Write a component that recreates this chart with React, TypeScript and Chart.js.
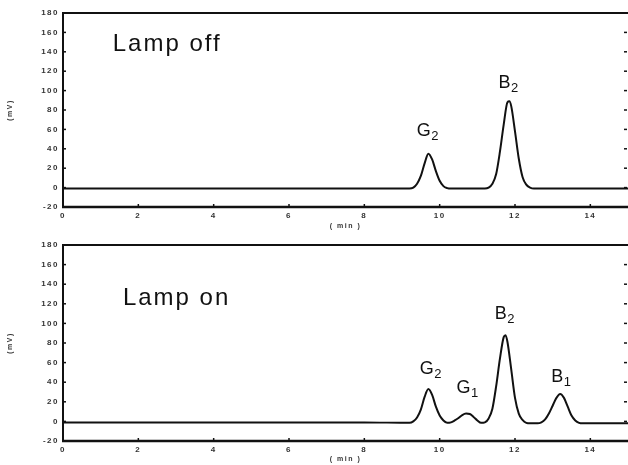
import React, { useEffect, useRef } from "react";
import { Chart, registerables } from "chart.js";

Chart.register(...registerables);

// ---- data (retention time in min, detector signal in mV) ----
const timeOff = [0, 2, 4, 6, 8, 9.1, 9.2, 9.3, 9.4, 9.5, 9.6, 9.7, 9.8, 9.9, 10.0, 10.1, 10.2, 10.3,
  11.1, 11.2, 11.3, 11.4, 11.5, 11.6, 11.7, 11.8, 11.85, 11.9, 12.0, 12.1, 12.2, 12.3, 12.4, 12.5, 13, 14, 15];
const signalOff = [-1, -1, -1, -1, -1, -1, -1, 0, 4, 12, 25, 35, 29, 17, 7, 1.5, -0.5, -1,
  -1, -1, 0, 4, 14, 37, 65, 88, 89, 84, 58, 30, 11, 3, 0, -1, -1, -1, -1];

const timeOn = [0, 2, 4, 6, 8, 9.2, 9.3, 9.4, 9.5, 9.6, 9.7, 9.8, 9.9, 10.0,
  10.1, 10.2, 10.3, 10.4, 10.5, 10.6, 10.7, 10.8, 10.9, 11.0,
  11.1, 11.2, 11.3, 11.4, 11.5, 11.6, 11.7, 11.75, 11.8, 11.9, 12.0, 12.1, 12.2, 12.3, 12.4,
  12.6, 12.7, 12.8, 12.9, 13.0, 13.1, 13.2, 13.3, 13.4, 13.5, 13.6, 13.7, 13.8, 14, 15];
const signalOn = [-1, -1, -1, -1, -1, -1.5, 0, 4, 12, 25, 33, 27, 15, 6,
  1, -1.5, -1, 1, 3.5, 6.5, 8, 7.5, 4.5, 1,
  -1.5, -1, 3, 13, 36, 64, 86, 88, 81, 53, 24, 8, 1.5, -1.5, -2,
  -2, -1, 2, 8, 16, 24, 28, 24, 15, 6, 1, -1.5, -2, -2, -2];

const xTickStep = 2;
const yTickStep = 20;
const xRange = [0, 15];
const yRange = [-20, 180];

// peak labels: [letter, subscript, time, signal]
const peaksOff = [["G", "2", 9.39, 53], ["B", "2", 11.56, 103]];
const peaksOn = [["G", "2", 9.47, 48], ["G", "1", 10.45, 29], ["B", "2", 11.46, 104], ["B", "1", 12.96, 40]];
const titleOff = ["Lamp off", 1.32, 141];
const titleOn = ["Lamp on", 1.59, 119];

const FONT = '"Liberation Sans", Arial, sans-serif';

function Panel({ times, values, peaks, title, height, xAxisH }: any) {
  const ref = useRef<HTMLCanvasElement>(null);
  useEffect(() => {
    const canvas = ref.current!;
    const deco = {
      id: "deco",
      beforeDraw(chart: any) {
        chart.ctx.letterSpacing = "1.5px";
      },
      afterDatasetsDraw(chart: any) {
        const { ctx, chartArea, scales } = chart;
        const { left, right, top, bottom } = chartArea;
        const x = scales.x, y = scales.y;
        ctx.save();
        ctx.letterSpacing = "0px";
        ctx.strokeStyle = "#111";
        ctx.lineCap = "butt";
        const seg = (a: number, b: number, c: number, d: number, w: number) => {
          ctx.lineWidth = w;
          ctx.beginPath();
          ctx.moveTo(a, b);
          ctx.lineTo(c, d);
          ctx.stroke();
        };
        seg(left, top, right, top, 2);
        seg(left, top - 1, left, bottom + 1, 2);
        seg(left - 1, bottom, right, bottom, 2.5);
        y.ticks.forEach((t: any) => {
          if (t.value > yRange[0] && t.value < yRange[1]) {
            const py = y.getPixelForValue(t.value);
            seg(left, py, left + 3, py, 1.5);
            seg(right - 4, py, right - 1, py, 1.5);
          }
        });
        x.ticks.forEach((t: any) => {
          if (t.value > xRange[0]) {
            const px = x.getPixelForValue(t.value);
            seg(px, bottom, px, bottom - 3, 1.5);
          }
        });
        // texts
        ctx.fillStyle = "#111";
        ctx.textBaseline = "alphabetic";
        ctx.textAlign = "left";
        ctx.letterSpacing = "2px";
        ctx.font = `24px ${FONT}`;
        ctx.fillText(title[0], x.getPixelForValue(title[1]), y.getPixelForValue(title[2]));
        ctx.letterSpacing = "0.5px";
        peaks.forEach((p: any) => {
          const px = x.getPixelForValue(p[2]);
          const py = y.getPixelForValue(p[3]);
          ctx.font = `18px ${FONT}`;
          ctx.fillText(p[0], px, py);
          const w = ctx.measureText(p[0]).width;
          ctx.font = `13px ${FONT}`;
          ctx.fillText(p[1], px + w, py + 4);
        });
        ctx.restore();
      },
      afterDraw(chart: any) {
        chart.ctx.letterSpacing = "0px";
      },
    };
    const tickFont = { size: 8, weight: "bold" as const, family: FONT };
    const chart = new Chart(canvas, {
      type: "line",
      data: {
        datasets: [{
          data: times.map((t: number, i: number) => ({ x: t, y: values[i] })),
          borderColor: "#111",
          borderWidth: 2,
          pointRadius: 0,
          fill: false,
          cubicInterpolationMode: "monotone",
        }],
      },
      options: {
        animation: false,
        responsive: false,
        devicePixelRatio: 1,
        layout: { padding: { top: 13, right: 0, left: 0, bottom: 0 } },
        plugins: { legend: { display: false }, tooltip: { enabled: false } },
        scales: {
          x: {
            type: "linear",
            min: xRange[0],
            max: xRange[1],
            afterFit: (s: any) => { s.height = xAxisH; },
            grid: { display: false, drawTicks: false },
            border: { display: false },
            ticks: { stepSize: xTickStep, includeBounds: false, padding: 4, font: tickFont, color: "#333", maxRotation: 0, autoSkip: false },
            title: { display: true, text: "( min )", font: { size: 7, weight: "bold", family: FONT }, color: "#333", padding: { top: 0, bottom: 2 } },
          },
          y: {
            type: "linear",
            min: yRange[0],
            max: yRange[1],
            afterFit: (s: any) => { s.width = 63; },
            grid: { display: false, drawTicks: false },
            border: { display: false },
            ticks: { stepSize: yTickStep, padding: 4, font: tickFont, color: "#333", autoSkip: false },
            title: { display: true, text: "(mV)", font: { size: 7, weight: "bold", family: FONT }, color: "#333", padding: { top: 6, bottom: 0 } },
          },
        },
      } as any,
      plugins: [deco],
    });
    return () => chart.destroy();
  }, []);
  return <canvas ref={ref} width={628} height={height} style={{ display: "block", width: 628, height }} />;
}

export default function App() {
  return (
    <div style={{ position: "fixed", left: 0, top: 0, width: 628, height: 465, background: "#fff" }}>
      <Panel times={timeOff} values={signalOff} peaks={peaksOff} title={titleOff} height={232} xAxisH={25} />
      <Panel times={timeOn} values={signalOn} peaks={peaksOn} title={titleOn} height={233} xAxisH={24} />
    </div>
  );
}
